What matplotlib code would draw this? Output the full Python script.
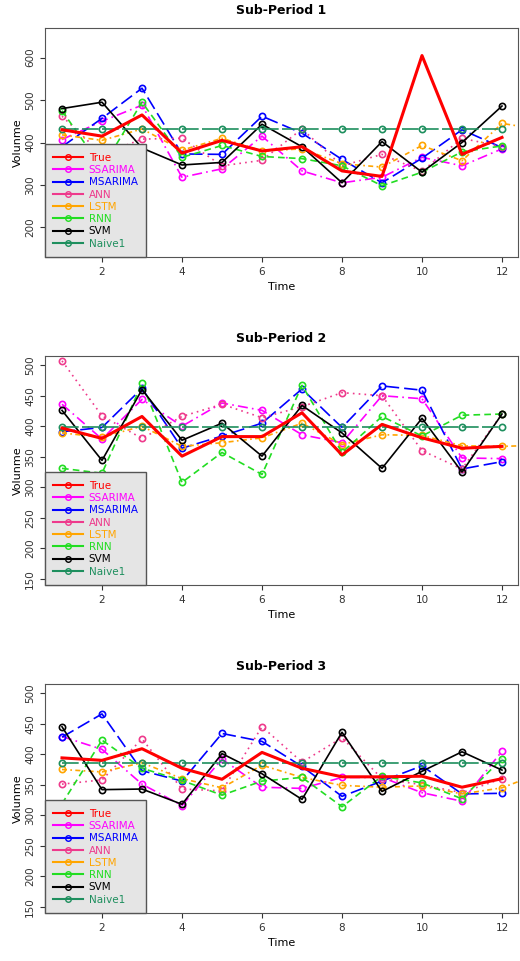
import matplotlib
matplotlib.use("Agg")
import matplotlib.pyplot as plt
from matplotlib.lines import Line2D
import numpy as np

names = ["True", "SSARIMA", "MSARIMA", "ANN", "LSTM", "RNN", "SVM", "Naive1"]
colors = ["#FF0000", "#FF00FF", "#0000FF", "#EE3A8C", "#FFA500", "#22DD22", "#000000", "#1E8F5E"]
dashes = [None, [6, 2.5, 1, 2.5], [8, 3], [1, 2.5], [3, 2, 1, 2], [4, 2.5], None, [10, 2]]
titles = ["Sub-Period 1", "Sub-Period 2", "Sub-Period 3"]

p1_true = [430, 415, 465, 375, 405, 380, 390, 333, 320, 605, 372, 412]
p1_ssarima = [407, 450, 488, 318, 338, 415, 333, 305, 318, 365, 345, 385]
p1_msarima = [390, 457, 528, 373, 372, 462, 422, 360, 305, 363, 430, 388]
p1_ann = [462, 372, 408, 410, 345, 358, 432, 345, 372, 332, 410, 390]
p1_lstm = [418, 405, 432, 382, 410, 380, 385, 350, 342, 393, 357, 445, 430]
p1_rnn = [475, 340, 495, 365, 393, 367, 362, 345, 298, 330, 378, 392]
p1_svm = [480, 495, 387, 347, 353, 443, 390, 305, 402, 330, 400, 486]
p1_naive = [431] * 12

p2_true = [397, 380, 416, 351, 383, 383, 422, 353, 403, 381, 364, 367]
p2_ssarima = [436, 379, 444, 400, 438, 426, 386, 373, 450, 445, 348, 347]
p2_msarima = [391, 398, 462, 364, 384, 405, 461, 398, 466, 459, 330, 342]
p2_ann = [507, 417, 380, 416, 436, 414, 432, 455, 450, 360, 330, 420]
p2_lstm = [389, 382, 400, 367, 373, 381, 405, 370, 386, 385, 368, 367, 369]
p2_rnn = [331, 323, 470, 308, 357, 321, 467, 357, 416, 384, 418, 420]
p2_svm = [426, 344, 460, 377, 405, 351, 434, 389, 331, 413, 325, 420]
p2_naive = [398] * 12

p3_true = [394, 390, 409, 377, 359, 403, 377, 363, 363, 364, 346, 360]
p3_ssarima = [429, 408, 351, 316, 392, 346, 344, 362, 362, 337, 323, 405]
p3_msarima = [428, 466, 373, 356, 434, 421, 380, 331, 356, 381, 335, 336]
p3_ann = [351, 358, 425, 343, 340, 445, 387, 427, 360, 350, 337, 360]
p3_lstm = [375, 371, 386, 360, 345, 382, 362, 349, 346, 348, 335, 345, 370]
p3_rnn = [319, 423, 377, 357, 333, 356, 362, 314, 364, 353, 327, 393]
p3_svm = [445, 342, 343, 318, 401, 368, 326, 436, 339, 372, 404, 374]
p3_naive = [386] * 12

panels = [
    [p1_true, p1_ssarima, p1_msarima, p1_ann, p1_lstm, p1_rnn, p1_svm, p1_naive],
    [p2_true, p2_ssarima, p2_msarima, p2_ann, p2_lstm, p2_rnn, p2_svm, p2_naive],
    [p3_true, p3_ssarima, p3_msarima, p3_ann, p3_lstm, p3_rnn, p3_svm, p3_naive],
]
ylims = [(130, 670), (140, 515), (140, 515)]
yticks = [[200, 300, 400, 500, 600], [150, 200, 250, 300, 350, 400, 450, 500], [150, 200, 250, 300, 350, 400, 450, 500]]

W, H = 520, 961
fig = plt.figure(figsize=(W / 100, H / 100), dpi=100)
tops = [28, 356, 684]
for i, series in enumerate(panels):
    ax = fig.add_axes([45 / W, 1 - (tops[i] + 229) / H, 473 / W, 229 / H])
    order = [1, 2, 3, 4, 5, 6, 7, 0]
    for k in order:
        y = series[k]
        x = np.arange(1, len(y) + 1)
        if k == 0:
            ax.plot(x, y, color=colors[k], lw=2.2, zorder=5)
        else:
            n = min(len(y), 12)
            ln, = ax.plot(x, y, color=colors[k], lw=1.2,
                          marker="o", markevery=list(range(n)), ms=4.5, mfc="none", mew=1.2)
            if dashes[k] is not None:
                ln.set_dashes(dashes[k])
    ax.set_xlim(0.575, 12.4)
    ax.set_ylim(*ylims[i])
    ax.set_xticks([2, 4, 6, 8, 10, 12])
    ax.set_yticks(yticks[i])
    ax.set_yticklabels([str(t) for t in yticks[i]], rotation=90, va="center")
    ax.tick_params(labelsize=7.5, colors="#333333")
    ax.set_ylabel("Volunme", fontsize=8, labelpad=2)
    ax.set_xlabel("Time", fontsize=8)
    ax.set_title(titles[i], fontsize=9, fontweight="bold", pad=10)
    for s in ax.spines.values():
        s.set_color("#555555")
    handles = [Line2D([0, 1], [0, 0], color=colors[k], lw=1.5, marker="o", ms=4, mfc="none",
                      markevery=[1]) for k in range(8)]
    leg = ax.legend(handles, names, loc="lower left", fontsize=7.5, frameon=True,
                    fancybox=False, borderaxespad=0, handlelength=2.8, labelspacing=0.22,
                    borderpad=0.8, handletextpad=0.6)
    leg.get_frame().set_facecolor("#E5E5E5")
    leg.get_frame().set_edgecolor("#555555")
    leg.get_frame().set_alpha(1)
    for t, c in zip(leg.get_texts(), colors):
        t.set_color(c)

fig.savefig("out.png", dpi=100)
